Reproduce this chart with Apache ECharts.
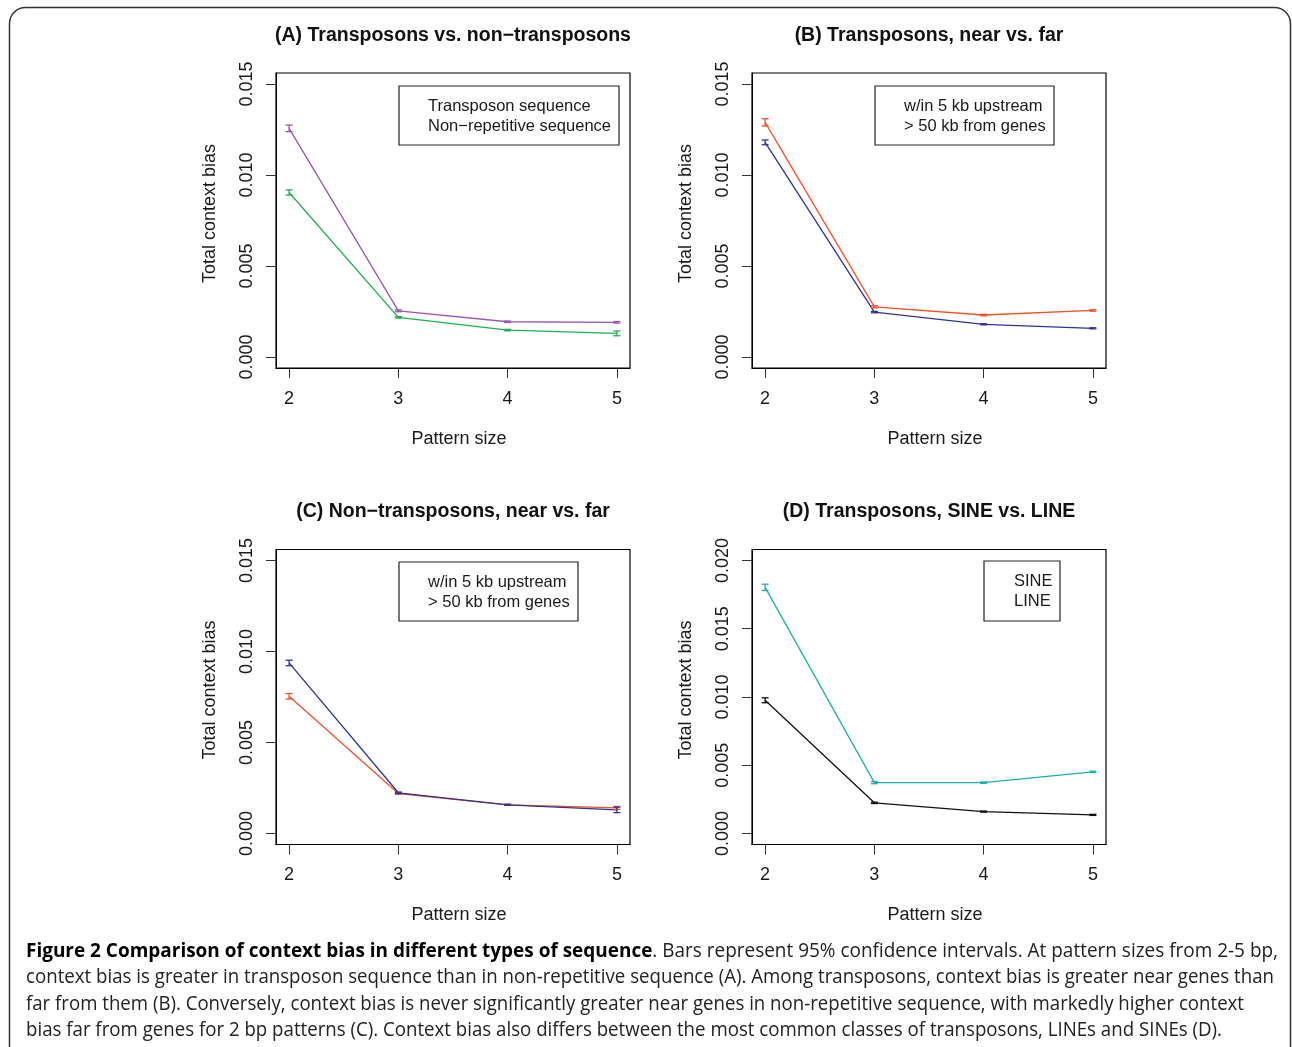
<!DOCTYPE html>
<html>
<head>
<meta charset="utf-8">
<script src="https://cdn.jsdelivr.net/npm/echarts@6/dist/echarts.min.js"></script>
<style>
html,body{margin:0;padding:0;background:#fff;}
#c{width:1292px;height:1047px;}
</style>
</head>
<body>
<div id="c"></div>
<script>
// ---------- data ----------
const patternSizes = [2, 3, 4, 5];
const xTicks = [2, 3, 4, 5];
const yTicksABC = [0, 0.005, 0.010, 0.015];
const yTicksD = [0, 0.005, 0.010, 0.015, 0.020];

const panelTitles = [
  '(A) Transposons vs. non\u2212transposons',
  '(B) Transposons, near vs. far',
  '(C) Non\u2212transposons, near vs. far',
  '(D) Transposons, SINE vs. LINE'
];
const legendA = ['Transposon sequence', 'Non\u2212repetitive sequence'];
const legendBC = ['w/in 5 kb upstream', '> 50 kb from genes'];
const legendD = ['SINE', 'LINE'];

// (A)
const aTransposon   = [0.01256, 0.00254, 0.00194, 0.00191];
const aTransposonCI = [0.00018, 0.00005, 0.00004, 0.00004];
const aNonRep       = [0.00904, 0.00218, 0.00148, 0.00130];
const aNonRepCI     = [0.00014, 0.00004, 0.00004, 0.00013];
// (B)
const bNear   = [0.01289, 0.00276, 0.00231, 0.00256];
const bNearCI = [0.00020, 0.00006, 0.00004, 0.00004];
const bFar    = [0.01179, 0.00247, 0.00180, 0.00158];
const bFarCI  = [0.00013, 0.00004, 0.00003, 0.00003];
// (C)
const cNear   = [0.00754, 0.00220, 0.00158, 0.00141];
const cNearCI = [0.00015, 0.00004, 0.00003, 0.00008];
const cFar    = [0.00937, 0.00224, 0.00158, 0.00130];
const cFarCI  = [0.00015, 0.00004, 0.00003, 0.00015];
// (D)
const dSine   = [0.01803, 0.00373, 0.00373, 0.00452];
const dSineCI = [0.00023, 0.00008, 0.00005, 0.00005];
const dLine   = [0.00976, 0.00225, 0.00161, 0.00137];
const dLineCI = [0.00018, 0.00005, 0.00004, 0.00004];

const captionBold = 'Figure 2 Comparison of context bias in different types of sequence';
const captionLines = [
  '. Bars represent 95% confidence intervals. At pattern sizes from 2-5 bp,',
  'context bias is greater in transposon sequence than in non-repetitive sequence (A). Among transposons, context bias is greater near genes than',
  'far from them (B). Conversely, context bias is never significantly greater near genes in non-repetitive sequence, with markedly higher context',
  'bias far from genes for 2 bp patterns (C). Context bias also differs between the most common classes of transposons, LINEs and SINEs (D).'
];

// ---------- styling / layout ----------
const FONT = '"Liberation Sans", Arial, Helvetica, sans-serif';
const COL = {
  purple: '#9A55B4', green: '#1DB04E', red: '#F4502A', blue: '#2D3494', teal: '#1CB0A8', black: '#111111'
};
const grids = [
  {left: 276, top: 73, width: 354, height: 295},
  {left: 752, top: 73, width: 354, height: 295},
  {left: 276, top: 549.5, width: 354, height: 295},
  {left: 752, top: 549.5, width: 354, height: 295}
];

function makeX(i) {
  return {
    gridIndex: i, type: 'value', min: 1.88, max: 5.12,
    axisLine: {show: true, onZero: false, lineStyle: {color: '#000', width: 1}},
    axisTick: {show: true, length: 10, customValues: xTicks, lineStyle: {color: '#333', width: 1}},
    axisLabel: {show: true, customValues: xTicks, margin: 22, fontSize: 18, fontFamily: FONT, color: '#1a1a1a',
      formatter: v => String(v)},
    splitLine: {show: false},
    name: 'Pattern size', nameLocation: 'middle', nameGap: 62,
    nameTextStyle: {fontSize: 18, fontFamily: FONT, color: '#1a1a1a', padding: [0, 0, 0, 12]}
  };
}
function makeY(i, lo, hi, ticks) {
  return {
    gridIndex: i, type: 'value', min: lo, max: hi,
    axisLine: {show: true, onZero: false, lineStyle: {color: '#000', width: 1}},
    axisTick: {show: true, length: 10, customValues: ticks, lineStyle: {color: '#333', width: 1}},
    axisLabel: {show: true, customValues: ticks, rotate: 90, margin: 20, fontSize: 18, fontFamily: FONT, color: '#1a1a1a',
      formatter: v => v.toFixed(3)},
    splitLine: {show: false},
    name: 'Total context bias', nameLocation: 'middle', nameGap: 57,
    nameTextStyle: {fontSize: 18, fontFamily: FONT, color: '#1a1a1a', padding: [0, 0, 0, 14]}
  };
}

function lineSeries(i, vals, color) {
  return {
    type: 'line', xAxisIndex: i, yAxisIndex: i,
    data: patternSizes.map((x, k) => [x, vals[k]]),
    symbol: 'none', lineStyle: {color: color, width: 1.3}, silent: true, animation: false, z: 3
  };
}
function errSeries(i, vals, ci, color) {
  return {
    type: 'custom', xAxisIndex: i, yAxisIndex: i,
    data: patternSizes.map((x, k) => [x, vals[k] - ci[k], vals[k] + ci[k]]),
    renderItem: function (params, api) {
      const top = api.coord([api.value(0), api.value(2)]);
      const bot = api.coord([api.value(0), api.value(1)]);
      const hw = 3.5;
      const st = {stroke: color, lineWidth: 1.3};
      return {type: 'group', children: [
        {type: 'line', shape: {x1: top[0], y1: top[1], x2: bot[0], y2: bot[1]}, style: st},
        {type: 'line', shape: {x1: top[0] - hw, y1: top[1], x2: top[0] + hw, y2: top[1]}, style: st},
        {type: 'line', shape: {x1: bot[0] - hw, y1: bot[1], x2: bot[0] + hw, y2: bot[1]}, style: st}
      ]};
    },
    silent: true, animation: false, z: 4
  };
}

// legends (text only, as in the original figure)
function legendBox(box, texts, textX) {
  return [
    {type: 'rect', shape: {x: box[0], y: box[1], width: box[2], height: box[3]},
      style: {fill: '#fff', stroke: '#222', lineWidth: 1.2}, z: 10},
    {type: 'text', x: textX, y: box[1] + 20.5, style: {text: texts[0], font: '16.5px ' + FONT, fill: '#1a1a1a', verticalAlign: 'middle'}, z: 11},
    {type: 'text', x: textX, y: box[1] + 40, style: {text: texts[1], font: '16.5px ' + FONT, fill: '#1a1a1a', verticalAlign: 'middle'}, z: 11}
  ];
}

// caption width fit (each line fitted to the width it has in the figure)
const CAP_FONT = '"Open Sans", "Noto Sans", sans-serif';
const CAP_SIZE = 20;
const capWidths = [1252, 1248, 1218, 1196];
const capY = [951, 977.5, 1004, 1030.5];
const cv = document.createElement('canvas').getContext('2d');
function measure(t, bold) {
  cv.font = (bold ? 'bold ' : '') + CAP_SIZE + 'px ' + CAP_FONT;
  return cv.measureText(t).width;
}

const graphics = [
  {type: 'rect', shape: {x: 9.5, y: 7.5, width: 1281, height: 1100, r: 16},
    style: {fill: 'none', stroke: '#333', lineWidth: 1.5}, z: 0}
];
grids.forEach((g, i) => {
  graphics.push({type: 'text', x: g.left + g.width / 2, y: i < 2 ? 36 : 512,
    style: {text: panelTitles[i], font: 'bold 19.5px ' + FONT, fill: '#111', align: 'center', verticalAlign: 'middle'}, z: 11});
});
graphics.push(...legendBox([399, 86, 220, 59], legendA, 428));
graphics.push(...legendBox([875, 86, 179, 59], legendBC, 904));
graphics.push(...legendBox([399, 562, 179, 59], legendBC, 428));
graphics.push(...legendBox([984, 561, 76, 60], legendD, 1014));
captionLines.forEach((t, k) => {
  const natural = k === 0 ? measure(captionBold, true) + measure(t, false) : measure(t, false);
  const el = {type: 'text', x: 26, y: capY[k], scaleX: capWidths[k] / natural, z: 11,
    style: {font: CAP_SIZE + 'px ' + CAP_FONT, fill: '#222', verticalAlign: 'middle', align: 'left'}};
  if (k === 0) {
    el.style.text = '{b|' + captionBold + '}' + t;
    el.style.rich = {b: {fontWeight: 'bold', fontFamily: CAP_FONT, fontSize: CAP_SIZE, fill: '#000'}};
  } else {
    el.style.text = t;
  }
  graphics.push(el);
});

const option = {
  animation: false,
  backgroundColor: '#fff',
  grid: grids.map(g => Object.assign({show: true, borderColor: '#000', borderWidth: 1.2, backgroundColor: 'transparent', containLabel: false}, g)),
  xAxis: [0, 1, 2, 3].map(makeX),
  yAxis: [
    makeY(0, -0.0006, 0.0156, yTicksABC),
    makeY(1, -0.0006, 0.0156, yTicksABC),
    makeY(2, -0.0006, 0.0156, yTicksABC),
    makeY(3, -0.0008, 0.0208, yTicksD)
  ],
  series: [
    lineSeries(0, aTransposon, COL.purple), errSeries(0, aTransposon, aTransposonCI, COL.purple),
    lineSeries(0, aNonRep, COL.green), errSeries(0, aNonRep, aNonRepCI, COL.green),
    lineSeries(1, bNear, COL.red), errSeries(1, bNear, bNearCI, COL.red),
    lineSeries(1, bFar, COL.blue), errSeries(1, bFar, bFarCI, COL.blue),
    lineSeries(2, cNear, COL.red), errSeries(2, cNear, cNearCI, COL.red),
    lineSeries(2, cFar, COL.blue), errSeries(2, cFar, cFarCI, COL.blue),
    lineSeries(3, dSine, COL.teal), errSeries(3, dSine, dSineCI, COL.teal),
    lineSeries(3, dLine, COL.black), errSeries(3, dLine, dLineCI, COL.black)
  ],
  graphic: {elements: graphics}
};

const chart = echarts.init(document.getElementById('c'), null, {renderer: 'canvas'});
chart.setOption(option);
</script>
</body>
</html>
